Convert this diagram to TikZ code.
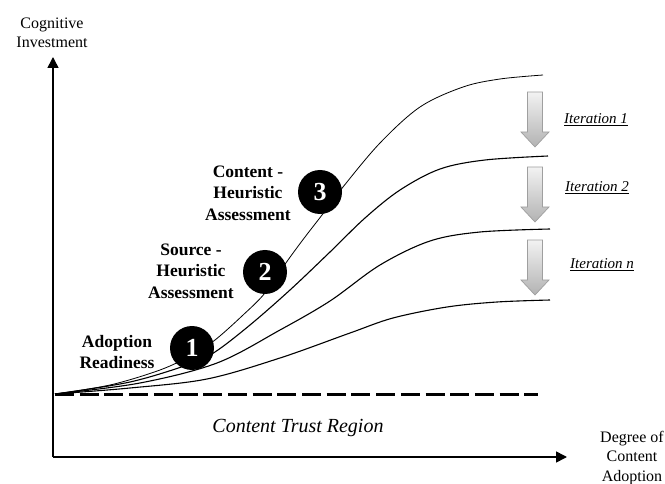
\documentclass[tikz,border=0pt]{standalone}
\usepackage{fontspec}
\setmainfont{Liberation Serif}
\usetikzlibrary{arrows.meta}
\begin{document}
\begin{tikzpicture}[x=1pt,y=-1pt,
  axis/.style={line width=1.6pt,-{Triangle[width=11pt,length=11pt]}},
  curve/.style={line width=1.1pt,smooth,tension=0.55},
  numcirc/.style={circle,fill=black,minimum size=44pt,inner sep=0pt,text=white,font=\bfseries\fontsize{26}{26}\selectfont},
  stagelabel/.style={align=center,font=\bfseries\fontsize{17.5}{21.5}\selectfont,inner sep=0pt},
  axislabel/.style={align=center,font=\fontsize{16}{19.5}\selectfont,inner sep=0pt},
  iterlabel/.style={anchor=base west,font=\itshape\fontsize{15}{17}\selectfont,inner sep=0pt},
  iterarrow/.pic={\shade[top color=gray!10,bottom color=gray!60,draw=gray!75,line width=0.7pt]
     (-7.5,0) -- (7.5,0) -- (7.5,40) -- (14,40) -- (0,55) -- (-14,40) -- (-7.5,40) -- cycle;}
]
\useasboundingbox (0,0) rectangle (665,484);
% axes
\coordinate (O) at (53,457);
\coordinate (Ytip) at (53,57);
\coordinate (Xtip) at (567,457);
\draw[axis] (O) -- (Ytip);
\draw[axis] (O) -- (Xtip);
\node[axislabel] (ylab) at (52,33) {Cognitive\\Investment};
\node[axislabel] (xlab) at (632,458) {Degree of\\Content\\Adoption};
% trust region
\coordinate (S) at (55,394);
\coordinate (Dend) at (538,394);
\draw[line width=3pt,dash pattern=on 19pt off 5.7pt] (S) -- (Dend);
\node[font=\itshape\fontsize{20}{24}\selectfont,inner sep=0pt] (trust) at (298,428) {Content Trust Region};
% curves
\draw[line width=0.8pt,smooth,tension=0.55] plot coordinates {(55,394) (110,385) (160,370) (192,355) (215,340) (242,316) (265,293) (288,260) (305,237) (322,215) (343,187) (380,143) (420,107) (463,87) (500,79) (543,75)};
\draw[curve] plot coordinates {(55,394) (130,382) (190,364) (215,352) (250,325) (290,290) (330,252) (365,218) (400,190) (440,169) (485,160) (548,156)};
\draw[curve] plot coordinates {(55,394) (140,383) (217,363) (280,330) (330,301) (380,265) (430,241) (480,232) (550,229)};
\draw[curve] plot coordinates {(55,394) (130,388) (207,379) (280,358) (350,333) (393,318) (447,307) (497,302) (550,300)};
% stage circles
\node[numcirc] (c1) at (192,348) {1};
\node[numcirc] (c2) at (265,272) {2};
\node[numcirc] (c3) at (320,192) {3};
\node[stagelabel] (l1) at (117,352) {Adoption\\Readiness};
\node[stagelabel] (l2) at (191,271) {Source -\\Heuristic\\Assessment};
\node[stagelabel] (l3) at (248,193) {Content -\\Heuristic\\Assessment};
% iteration arrows
\pic (a1) at (535,92) {iterarrow};
\pic (a2) at (535,167) {iterarrow};
\pic (a3) at (535,240) {iterarrow};
\node[iterlabel] (i1) at (564,124) {\underline{Iteration 1}};
\node[iterlabel] (i2) at (565,192) {\underline{Iteration 2}};
\node[iterlabel] (i3) at (570,269) {\underline{Iteration n}};
\end{tikzpicture}
\end{document}
